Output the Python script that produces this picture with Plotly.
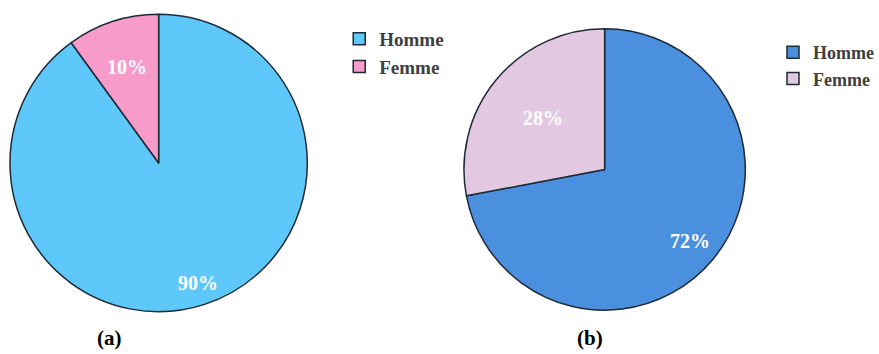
import math
import plotly.graph_objects as go

labels = ["Homme", "Femme"]
values_a = [90, 10]
values_b = [72, 28]
colors_a = ["#5EC8FA", "#F79BCB"]
colors_b = ["#4A90DF", "#E2C8E0"]
panel_labels = ["(a)", "(b)"]

W, H = 879, 354
serif = "Liberation Serif, Times New Roman, serif"

# pie placement (pixels) and label radius fraction per slice (style)
pies = [
    dict(values=values_a, colors=colors_a, box=(10, 308, 14, 312), rfrac=[0.85, 0.68],
         legend="legend", group="a"),
    dict(values=values_b, colors=colors_b, box=(465, 747, 28, 311), rfrac=[0.79, 0.57],
         legend="legend2", group="b"),
]

fig = go.Figure()
annotations = []
for p in pies:
    x0, x1, y0, y1 = p["box"]
    fig.add_trace(go.Pie(
        labels=labels, values=p["values"], sort=False, direction="clockwise", rotation=0,
        marker=dict(colors=p["colors"], line=dict(color="#1E2A36", width=1.5)),
        textinfo="none",
        domain=dict(x=[x0 / W, x1 / W], y=[1 - y1 / H, 1 - y0 / H]),
        legend=p["legend"], legendgroup=p["group"], hoverinfo="label+percent",
    ))
    # percentage labels positioned at slice mid-angles computed from values
    cx, cy = (x0 + x1) / 2, (y0 + y1) / 2
    R = min(x1 - x0, y1 - y0) / 2
    total = sum(p["values"])
    cum = 0
    for v, rf in zip(p["values"], p["rfrac"]):
        mid = (cum + v / 2) / total * 2 * math.pi
        cum += v
        px = cx + rf * R * math.sin(mid)
        py = cy - rf * R * math.cos(mid)
        annotations.append(dict(
            text=f"{round(100 * v / total)}%", x=px / W, y=1 - py / H,
            xref="paper", yref="paper", xanchor="center", yanchor="middle", showarrow=False,
            font=dict(family=serif, size=20, color="white", weight="bold")))

for lab, xpix in zip(panel_labels, [110, 591]):
    annotations.append(dict(
        text=lab, x=xpix / W, y=1 - 338 / H, xref="paper", yref="paper",
        xanchor="center", yanchor="middle", showarrow=False,
        font=dict(family=serif, size=21, color="black", weight="bold")))

fig.update_layout(
    width=W, height=H, margin=dict(l=0, r=0, t=0, b=0),
    paper_bgcolor="white", plot_bgcolor="white",
    legend=dict(x=340 / W, y=1 - 20 / H, xanchor="left", yanchor="top",
                font=dict(family=serif, size=19, color="#404040", weight="bold"),
                bgcolor="rgba(0,0,0,0)"),
    legend2=dict(x=775 / W, y=1 - 34 / H, xanchor="left", yanchor="top",
                 font=dict(family=serif, size=18, color="#404040", weight="bold"),
                 bgcolor="rgba(0,0,0,0)"),
    annotations=annotations,
)
fig.write_html("out.html")
